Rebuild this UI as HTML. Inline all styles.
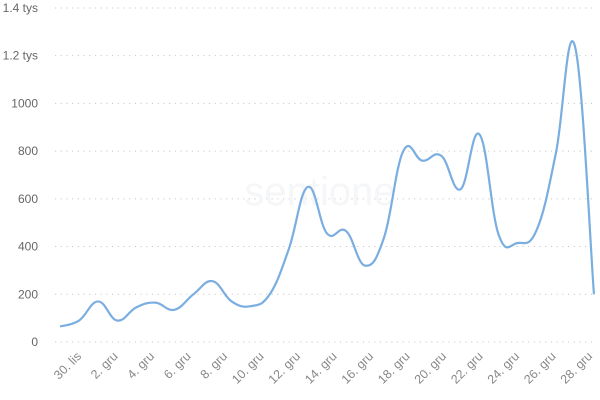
<!DOCTYPE html>
<html><head><meta charset="utf-8"><style>
html,body{margin:0;padding:0;background:#fff;}
svg{display:block;font-family:"Liberation Sans",sans-serif;}
</style></head><body>
<svg id="c" width="600" height="400" viewBox="0 0 600 400">
<g id="grid" stroke="#c8c8c8" stroke-width="1" stroke-dasharray="1.2,4.5"></g>
<g id="yl" fill="#666" font-size="12" text-anchor="end"></g>
<g id="xl" fill="#888" font-size="12.5" text-anchor="end"></g>
<text x="320" y="205" font-size="40" fill="#f5f6f8" text-anchor="middle">sentione</text>
<path id="ln" fill="none" stroke="#7aaee0" stroke-width="2.2" stroke-linejoin="round"/>
</svg>
<script>
var ns="http://www.w3.org/2000/svg";
function el(t,a,txt){var e=document.createElementNS(ns,t);for(var k in a)e.setAttribute(k,a[k]);if(txt)e.textContent=txt;return e;}
var y0=342,py=0.2386;
var yl=["0","200","400","600","800","1000","1.2 tys","1.4 tys"];
for(var i=0;i<8;i++){var y=y0-i*200*py;
document.getElementById("grid").appendChild(el("line",{x1:55,x2:596,y1:y,y2:y}));
document.getElementById("yl").appendChild(el("text",{x:38,y:y+4},yl[i]));}
var x0=60,dx=19.07;
var lab=["30. lis","2. gru","4. gru","6. gru","8. gru","10. gru","12. gru","14. gru","16. gru","18. gru","20. gru","22. gru","24. gru","26. gru","28. gru"];
for(var i=0;i<15;i++){var x=82+i*36.5,y=357;
document.getElementById("xl").appendChild(el("text",{x:x,y:y,transform:"rotate(-45 "+x+" "+y+")"},lab[i]));}
var v=[65,90,170,90,145,165,135,200,255,170,150,200,390,650,455,465,320,440,800,760,780,640,870,450,415,470,790,1240,200];
var p=v.map(function(d,i){return [x0+i*dx,y0-d*py];});
var d="M"+p[0][0]+","+p[0][1];
for(var i=0;i<p.length-1;i++){var a=p[i-1]||p[i],b=p[i],c=p[i+1],e=p[i+2]||c,t=0.2;
d+=" C"+(b[0]+(c[0]-a[0])*t)+","+(b[1]+(c[1]-a[1])*t)+" "+(c[0]-(e[0]-b[0])*t)+","+(c[1]-(e[1]-b[1])*t)+" "+c[0]+","+c[1];}
document.getElementById("ln").setAttribute("d",d);
</script>
</body></html>
